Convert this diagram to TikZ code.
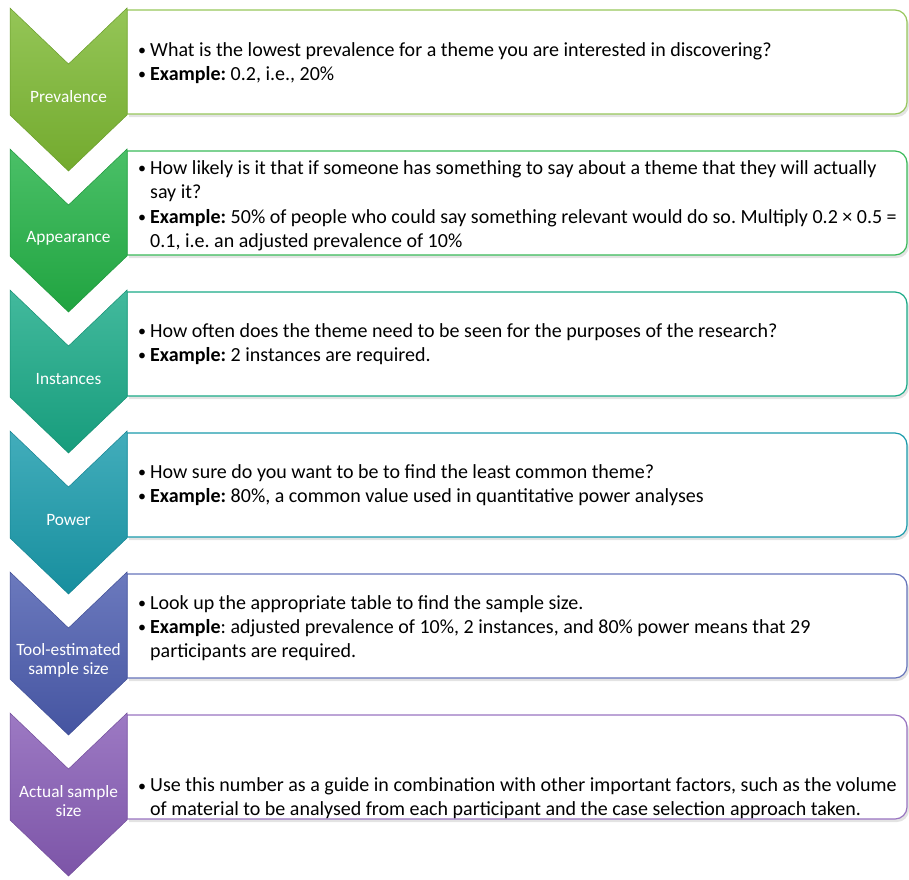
\documentclass[tikz,border=0pt]{standalone}
\usepackage{graphicx}
\usepackage{fontspec}
\setmainfont{Carlito}
\usetikzlibrary{shadows}

\definecolor{prevcol}{RGB}{125,185,50}
\definecolor{appcol}{RGB}{35,178,70}
\definecolor{instcol}{RGB}{25,170,135}
\definecolor{powcol}{RGB}{25,155,172}
\definecolor{toolcol}{RGB}{75,92,175}
\definecolor{actcol}{RGB}{135,92,182}

\newcommand{\itembullet}{\makebox[12pt][l]{\raisebox{0.5pt}{\scalebox{0.8}{\textbullet}}}}
\newcommand{\itemhang}{\hspace*{12pt}}

\begin{document}
\frenchspacing
\begin{tikzpicture}[x=1pt,y=-1pt,
    chevron/.style={top color=#1!82!white, bottom color=#1!92!black, draw=#1!85!black, line width=0.5pt},
    textbox/.style={fill=white, draw=#1, line width=1.2pt, drop shadow={shadow xshift=2pt,shadow yshift=-3pt,opacity=0.22}},
    steplabel/.style={text=white, inner sep=0pt, align=center, font=\fontsize{17.3}{19}\selectfont},
    itemtext/.style={anchor=west, inner sep=0pt, align=left, font=\fontsize{20}{24}\selectfont}]
    \useasboundingbox (0,0) rectangle (909,879);

    % boxes
    \draw[textbox=prevcol!80!white] (127,10) -- (895,10) .. controls (901.6,10) and (907,15.4) .. (907,22) -- (907,102) .. controls (907,108.6) and (901.6,114) .. (895,114) -- (127,114) -- cycle;
    \draw[textbox=appcol!90!white] (127,151) -- (895,151) .. controls (901.6,151) and (907,156.4) .. (907,163) -- (907,243) .. controls (907,249.6) and (901.6,255) .. (895,255) -- (127,255) -- cycle;
    \draw[textbox=instcol] (127,292) -- (895,292) .. controls (901.6,292) and (907,297.4) .. (907,304) -- (907,384) .. controls (907,390.6) and (901.6,396) .. (895,396) -- (127,396) -- cycle;
    \draw[textbox=powcol] (127,433) -- (895,433) .. controls (901.6,433) and (907,438.4) .. (907,445) -- (907,525) .. controls (907,531.6) and (901.6,537) .. (895,537) -- (127,537) -- cycle;
    \draw[textbox=toolcol!85!white] (127,574) -- (895,574) .. controls (901.6,574) and (907,579.4) .. (907,586) -- (907,666) .. controls (907,672.6) and (901.6,678) .. (895,678) -- (127,678) -- cycle;
    \draw[textbox=actcol!85!white] (127,715) -- (895,715) .. controls (901.6,715) and (907,720.4) .. (907,727) -- (907,807) .. controls (907,813.6) and (901.6,819) .. (895,819) -- (127,819) -- cycle;

    % chevrons
    \draw[chevron=prevcol] (10,8) -- (68.5,64) -- (127,8) -- (127,115) -- (68.5,171) -- (10,115) -- cycle;
    \draw[chevron=appcol] (10,149) -- (68.5,205) -- (127,149) -- (127,256) -- (68.5,312) -- (10,256) -- cycle;
    \draw[chevron=instcol] (10,290) -- (68.5,346) -- (127,290) -- (127,397) -- (68.5,453) -- (10,397) -- cycle;
    \draw[chevron=powcol] (10,431) -- (68.5,487) -- (127,431) -- (127,538) -- (68.5,594) -- (10,538) -- cycle;
    \draw[chevron=toolcol] (10,572) -- (68.5,628) -- (127,572) -- (127,679) -- (68.5,735) -- (10,679) -- cycle;
    \draw[chevron=actcol] (10,713) -- (68.5,769) -- (127,713) -- (127,820) -- (68.5,876) -- (10,820) -- cycle;

    \node[steplabel] (prevlabel) at (68.5,97) {Prevalence};
    \node[steplabel] (applabel) at (68.5,238) {Appearance};
    \node[steplabel] (instlabel) at (68.5,379) {Instances};
    \node[steplabel] (powlabel) at (68.5,520) {Power};
    \node[steplabel] (toollabel) at (68.5,660) {Tool-estimated\\sample size};
    \node[steplabel] (actlabel) at (68.5,801) {Actual sample\\size};

    \node[itemtext] (prevtext) at (138,63) {\itembullet What is the lowest prevalence for a theme you are interested in discovering?\\
        \itembullet\textbf{Example:} 0.2, i.e., 20\%};
    \node[itemtext] (apptext) at (138,205.5) {\itembullet How likely is it that if someone has something to say about a theme that they will actually\\
        \itemhang say it?\\[1pt]
        \itembullet\textbf{Example:} 50\% of people who could say something relevant would do so. Multiply 0.2 × 0.5 =\\
        \itemhang 0.1, i.e. an adjusted prevalence of 10\%};
    \node[itemtext] (insttext) at (138,344) {\itembullet How often does the theme need to be seen for the purposes of the research?\\
        \itembullet\textbf{Example:} 2 instances are required.};
    \node[itemtext] (powtext) at (138,485) {\itembullet How sure do you want to be to find the least common theme?\\
        \itembullet\textbf{Example:} 80\%, a common value used in quantitative power analyses};
    \node[itemtext] (tooltext) at (138,628) {\itembullet Look up the appropriate table to find the sample size.\\
        \itembullet\textbf{Example}: adjusted prevalence of 10\%, 2 instances, and 80\% power means that 29\\
        \itemhang participants are required.};
    \node[itemtext] (acttext) at (138,798.5) {\itembullet Use this number as a guide in combination with other important factors, such as the volume\\
        \itemhang of material to be analysed from each participant and the case selection approach taken.};
\end{tikzpicture}
\end{document}
